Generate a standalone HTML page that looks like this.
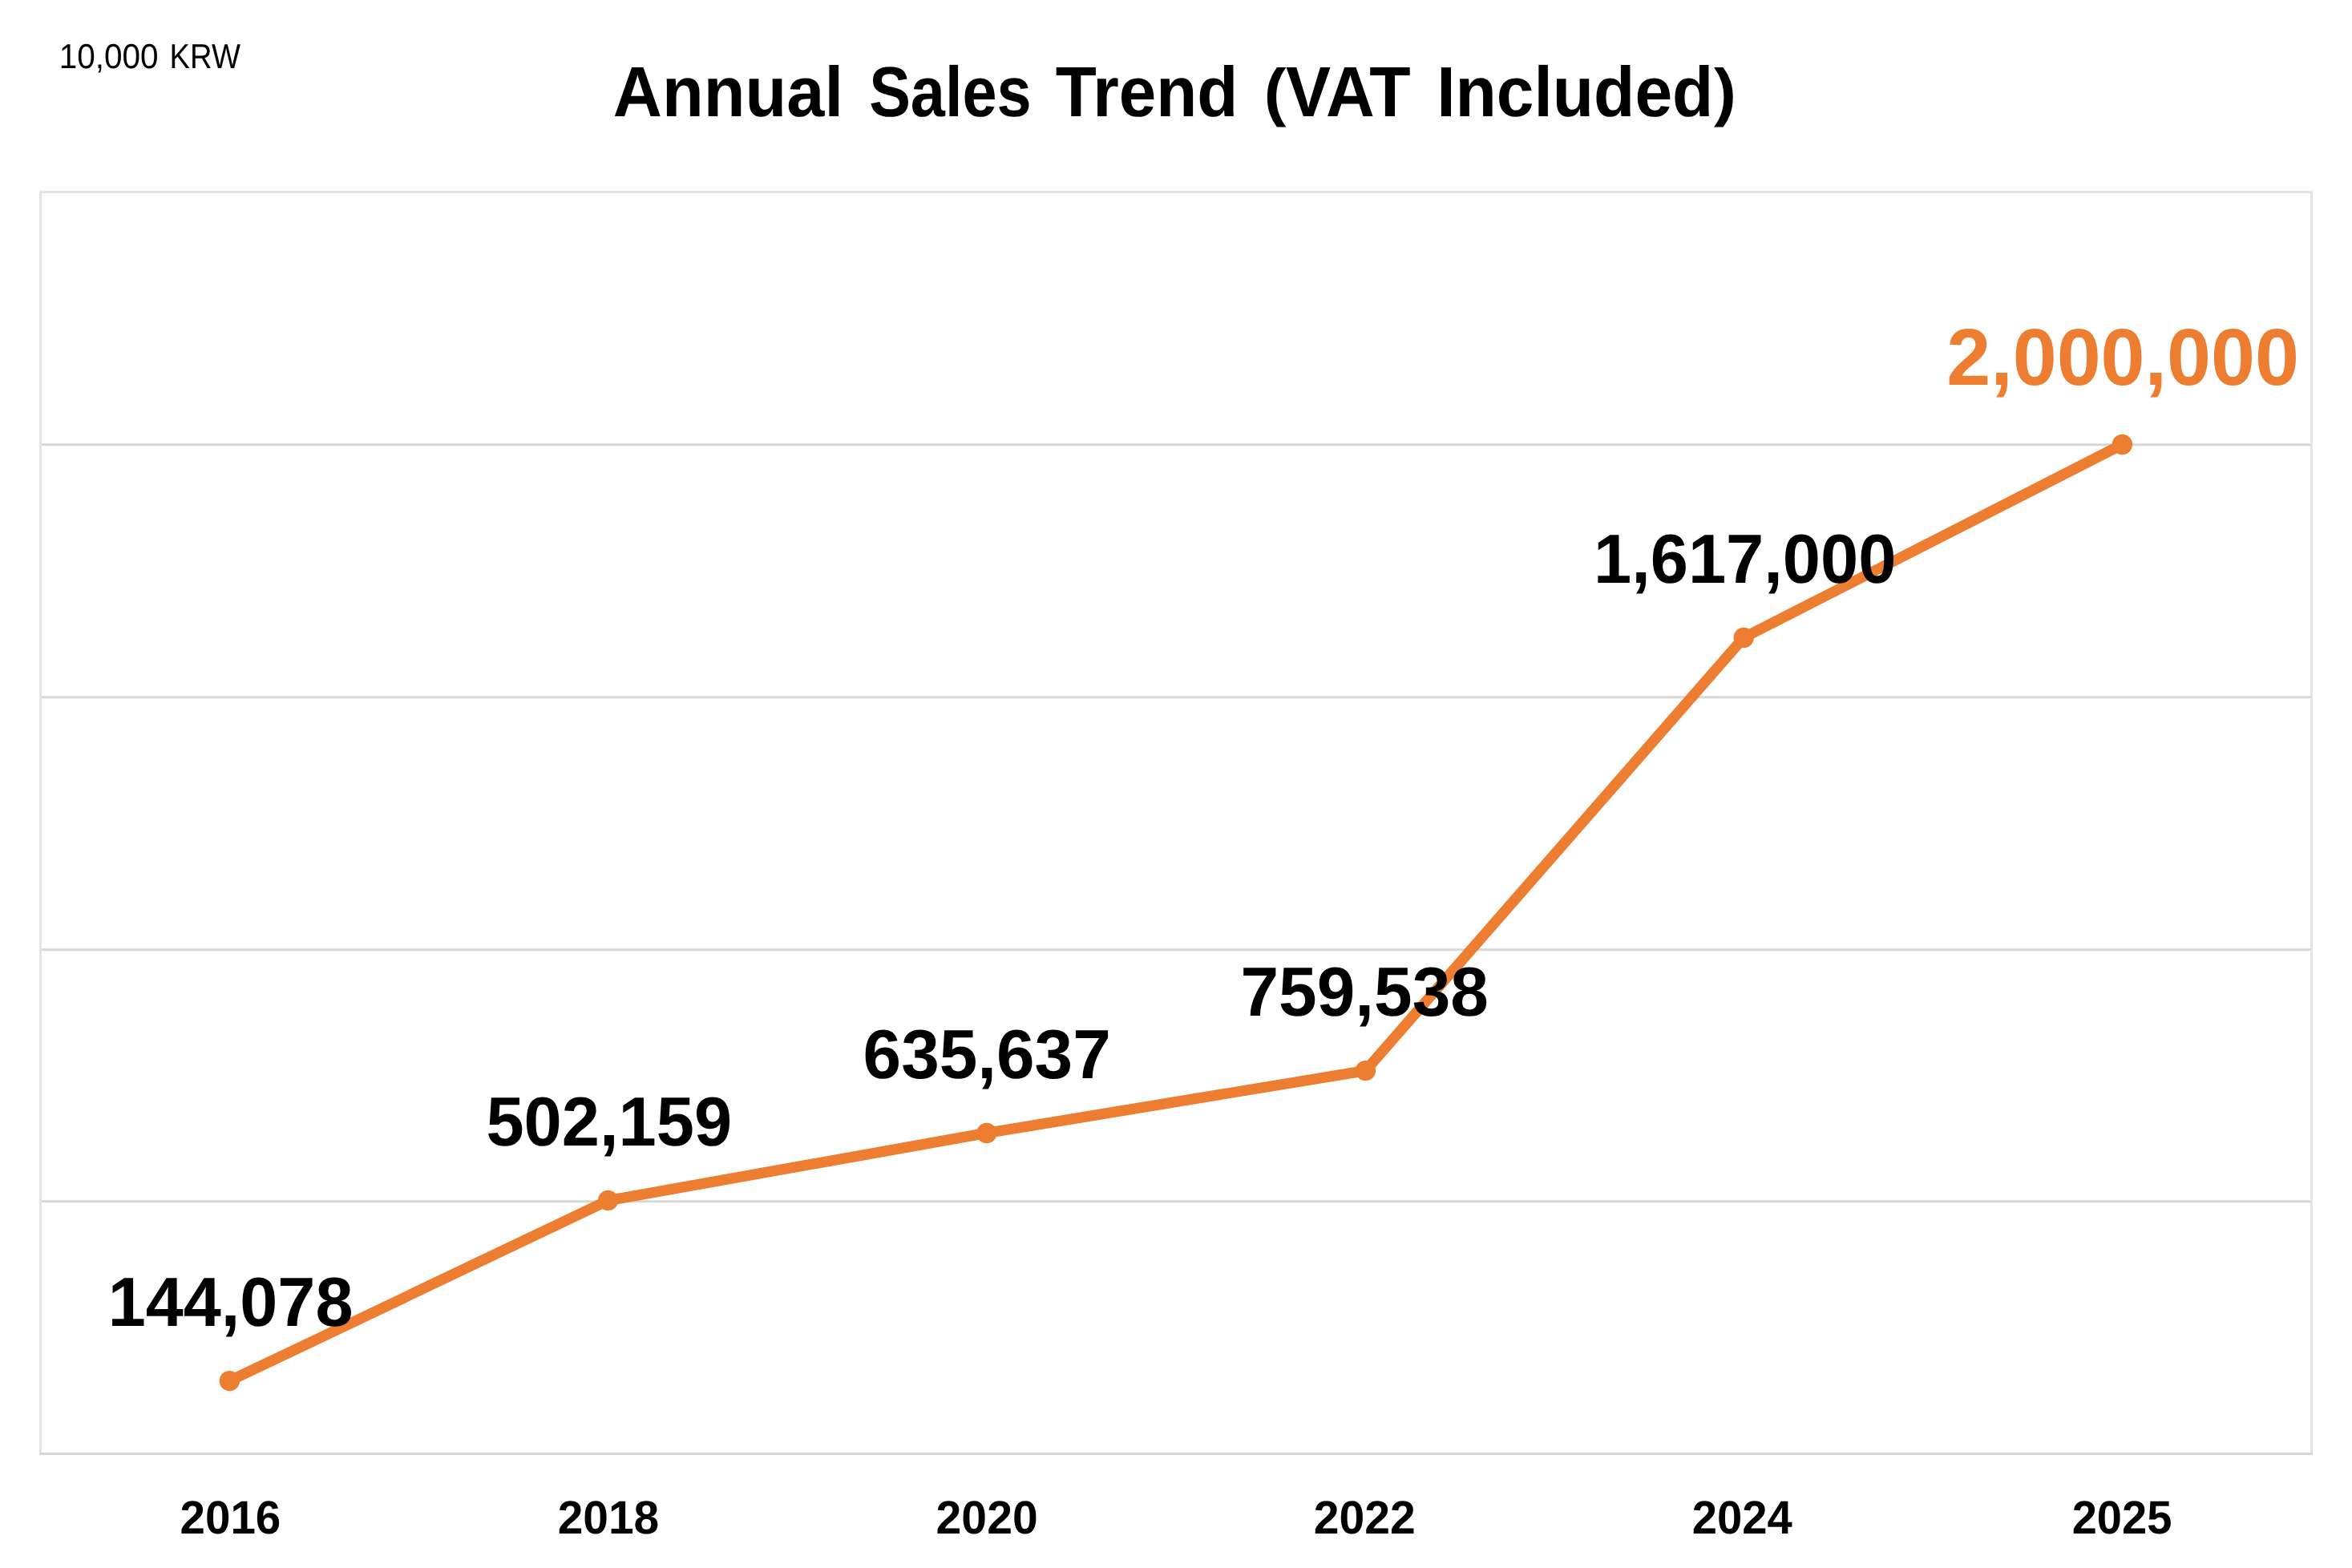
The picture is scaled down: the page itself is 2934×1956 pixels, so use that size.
<!DOCTYPE html>
<html lang="en">
<head>
<meta charset="utf-8">
<title>Annual Sales Trend (VAT Included)</title>
<style>
  html, body { margin: 0; padding: 0; background: #ffffff; }
  body { width: 2934px; height: 1956px; overflow: hidden; position: relative; }
  svg { display: block; position: absolute; left: 0; top: 0; }
  text { font-family: "Liberation Sans", sans-serif; text-rendering: geometricPrecision; }
</style>
</head>
<body>
<svg width="2934" height="1956" viewBox="0 0 2934 1956">
  <rect x="0" y="0" width="2934" height="1956" fill="#ffffff"/>

  <!-- unit label -->
  <g id="unit" style="filter:grayscale(1)">
    <text font-weight="normal" fill="#000000"><tspan x="73.67" y="85" font-size="43.17" textLength="123.91" lengthAdjust="spacingAndGlyphs">10,000</tspan> <tspan x="211.57" y="85" font-size="43.17" textLength="88.33" lengthAdjust="spacingAndGlyphs">KRW</tspan></text>
  </g>

  <!-- chart title -->
  <g id="title">
    <text font-weight="bold" fill="#000000"><tspan x="764.87" y="145" font-size="88.5" textLength="287.16" lengthAdjust="spacingAndGlyphs">Annual</tspan> <tspan x="1084.13" y="145" font-size="88.5" textLength="202.52" lengthAdjust="spacingAndGlyphs">Sales</tspan> <tspan x="1316.86" y="145" font-size="88.5" textLength="227.47" lengthAdjust="spacingAndGlyphs">Trend</tspan> <tspan x="1576.85" y="142" font-size="79.9" textLength="27.63" lengthAdjust="spacingAndGlyphs">(</tspan><tspan x="1604.07" y="145" font-size="88.5" textLength="155.65" lengthAdjust="spacingAndGlyphs">VAT</tspan> <tspan x="1792.14" y="145" font-size="88.5" textLength="345.26" lengthAdjust="spacingAndGlyphs">Included</tspan><tspan x="2137.96" y="142" font-size="79.9" textLength="27.88" lengthAdjust="spacingAndGlyphs">)</tspan></text>
  </g>

  <!-- plot frame -->
  <rect x="50.5" y="239.5" width="2833" height="1574" fill="none" stroke="#E4E4E4" stroke-width="3" stroke-linejoin="round"/>

  <!-- gridlines + category axis line -->
  <g id="grid" stroke="#D7D7D7" stroke-width="3" fill="none">
    <line x1="52" y1="554.7" x2="2882" y2="554.7"/>
    <line x1="52" y1="869.7" x2="2882" y2="869.7"/>
    <line x1="52" y1="1184.7" x2="2882" y2="1184.7"/>
    <line x1="52" y1="1498.7" x2="2882" y2="1498.7"/>
    <line x1="49" y1="1813.5" x2="2885" y2="1813.5"/>
  </g>

  <!-- series line + markers -->
  <g id="series">
    <polyline points="286.4,1722.6 758.6,1497.5 1230.8,1413.4 1703.4,1335.6 2175.2,795.4 2647.4,554.5"
              fill="none" stroke="#ED7D31" stroke-width="13.3" stroke-linejoin="round" stroke-linecap="round"/>
    <g fill="#ED7D31">
      <circle cx="286.4" cy="1722.6" r="12.7"/>
      <circle cx="758.6" cy="1497.5" r="12.7"/>
      <circle cx="1230.8" cy="1413.4" r="12.7"/>
      <circle cx="1703.4" cy="1335.6" r="12.7"/>
      <circle cx="2175.2" cy="795.4" r="12.7"/>
      <circle cx="2647.4" cy="554.5" r="12.7"/>
    </g>
  </g>

  <!-- data labels (drawn above the line) -->
  <g id="labels">
    <text font-weight="bold" fill="#000000"><tspan x="134.78" y="1654" font-size="86.8" textLength="305.66" lengthAdjust="spacingAndGlyphs">144,078</tspan></text>
    <text font-weight="bold" fill="#000000"><tspan x="606.39" y="1429" font-size="86.8" textLength="306.76" lengthAdjust="spacingAndGlyphs">502,159</tspan></text>
    <text font-weight="bold" fill="#000000"><tspan x="1076.62" y="1345" font-size="86.8" textLength="309.10" lengthAdjust="spacingAndGlyphs">635,637</tspan></text>
    <text font-weight="bold" fill="#000000"><tspan x="1547.43" y="1267" font-size="86.8" textLength="309.49" lengthAdjust="spacingAndGlyphs">759,538</tspan></text>
    <text font-weight="bold" fill="#000000"><tspan x="1987.97" y="727" font-size="86.8" textLength="377.39" lengthAdjust="spacingAndGlyphs">1,617,000</tspan></text>
    <text font-weight="bold" fill="#ED7D31"><tspan x="2428.19" y="480" font-size="100.2" textLength="439.85" lengthAdjust="spacingAndGlyphs">2,000,000</tspan></text>
  </g>

  <!-- category axis labels -->
  <g id="axis">
    <text font-weight="bold" fill="#000000"><tspan x="224.54" y="1913" font-size="58.4" textLength="125.72" lengthAdjust="spacingAndGlyphs">2016</tspan></text>
    <text font-weight="bold" fill="#000000"><tspan x="695.63" y="1913" font-size="58.4" textLength="126.66" lengthAdjust="spacingAndGlyphs">2018</tspan></text>
    <text font-weight="bold" fill="#000000"><tspan x="1167.62" y="1913" font-size="58.4" textLength="127.05" lengthAdjust="spacingAndGlyphs">2020</tspan></text>
    <text font-weight="bold" fill="#000000"><tspan x="1638.82" y="1913" font-size="58.4" textLength="127.03" lengthAdjust="spacingAndGlyphs">2022</tspan></text>
    <text font-weight="bold" fill="#000000"><tspan x="2110.86" y="1913" font-size="58.4" textLength="125.03" lengthAdjust="spacingAndGlyphs">2024</tspan></text>
    <text font-weight="bold" fill="#000000"><tspan x="2584.66" y="1913" font-size="58.4" textLength="124.65" lengthAdjust="spacingAndGlyphs">2025</tspan></text>
  </g>
</svg>
</body>
</html>
